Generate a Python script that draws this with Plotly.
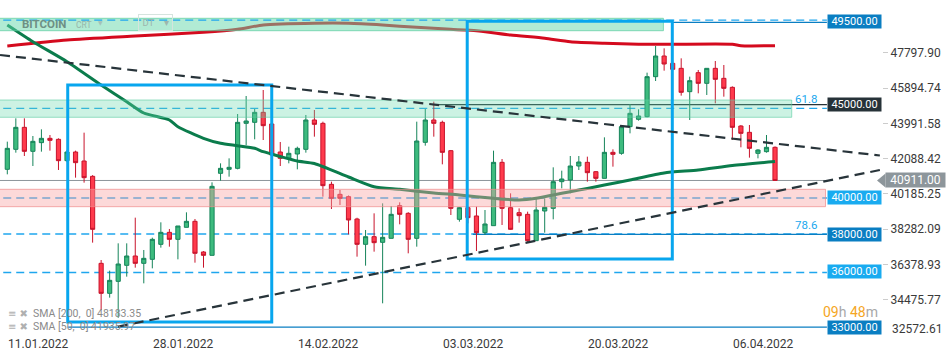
import plotly.graph_objects as go
import pandas as pd

# ---------------- data ----------------
dates = [d.strftime("%Y-%m-%d") for d in pd.date_range("2022-01-11", "2022-04-11", freq="D")]

opens = [41513, 42592, 43779, 42484, 42952, 43185, 43131, 41980, 42448, 41962,
         41135, 36440, 34821, 35469, 36332, 36836, 36440, 36656, 37465, 38113,
         37735, 38383, 38707, 37052, 36872, 41297, 41512, 41566, 43995, 44049,
         44588, 43959, 42448, 42106, 42340, 42592, 44175, 43995, 40703, 40163,
         40037, 38833, 37465, 37879, 37573, 37789, 39552, 39138, 37789, 42969,
         44175, 44049, 42520, 38815, 39444, 38995, 38095, 38473, 41890, 39444,
         39174, 39084, 37663, 39264, 39408, 40847, 40937, 41692, 41890, 41386,
         41026, 42430, 42376, 43815, 44211, 44355, 46513, 47628, 47232, 46963,
         45704, 46729, 46153, 46963, 46423, 45937, 43851, 43509, 42376, 42466,
         42700]
highs = [43006, 44265, 44265, 43311, 43671, 43365, 43185, 42560, 42520, 43491,
         41200, 36620, 36044, 37519, 37519, 38904, 37160, 37825, 38653, 38293,
         38455, 39192, 38833, 37100, 40811, 41836, 42106, 44498, 45470, 44768,
         45793, 44000, 42988, 42736, 42736, 44445, 44714, 44085, 40847, 40397,
         40100, 38900, 38239, 39138, 39678, 39534, 39732, 39200, 44085, 44768,
         45164, 44139, 42556, 39480, 39500, 39498, 39318, 42520, 42070, 40217,
         39408, 39228, 39948, 39948, 41620, 41440, 42232, 42232, 42196, 41420,
         43239, 42592, 43880, 45038, 44750, 46729, 48168, 48042, 47400, 47502,
         46513, 46873, 46963, 47358, 47142, 45990, 43900, 43905, 42600, 43365,
         42750]
lows = [41243, 42412, 42232, 41692, 42466, 42520, 41477, 41900, 41063, 40793,
        37556, 33922, 34587, 33500, 35721, 36206, 35361, 36170, 37285, 37339,
        36656, 38383, 36476, 36206, 36872, 40901, 41117, 41512, 42808, 43131,
        43095, 42250, 41692, 41836, 41512, 42412, 43275, 40037, 39372, 39588,
        38005, 36800, 36314, 37070, 34282, 37789, 38545, 36980, 37339, 42790,
        43275, 41782, 39048, 38689, 38600, 37106, 37969, 38473, 38509, 38239,
        38635, 37555, 37663, 38095, 38815, 40487, 40217, 41476, 40847, 40847,
        41026, 41656, 42300, 43455, 44140, 44319, 46279, 46837, 46850, 45488,
        44175, 45614, 45524, 45074, 45434, 43095, 42700, 42142, 42106, 42412,
        40883]
closes = [42646, 43779, 42484, 43023, 43185, 43077, 41980, 42448, 41872, 41063,
          38275, 34821, 35523, 36404, 36836, 36440, 36710, 37735, 38113, 37735,
          38455, 38707, 36980, 36872, 40595, 41566, 41620, 44049, 44121, 44588,
          43869, 42286, 42106, 42376, 42646, 44175, 43941, 40631, 39948, 39948,
          38779, 37465, 37879, 37555, 37843, 39084, 39084, 37735, 43041, 44175,
          43995, 42430, 39408, 39444, 38905, 38095, 38563, 41890, 39408, 38275,
          39012, 37663, 39318, 39462, 40847, 40991, 41692, 41908, 41332, 41026,
          42430, 42322, 43815, 44535, 44391, 46513, 47628, 47196, 46909, 45668,
          46297, 46153, 46963, 46369, 45883, 43779, 43455, 42646, 42556, 42700,
          40911]

sma200_dates = ["2022-01-11", "2022-01-18", "2022-01-26", "2022-02-03", "2022-02-07",
                "2022-02-10", "2022-02-16", "2022-02-20", "2022-02-24", "2022-02-28",
                "2022-03-04", "2022-03-07", "2022-03-11", "2022-03-15", "2022-03-18",
                "2022-03-22", "2022-03-26", "2022-03-30", "2022-04-06", "2022-04-07",
                "2022-04-11"]
sma200_vals = [48168, 48492, 48707, 48907, 49069, 49301, 49393, 49393, 49301, 49177,
               49069, 48993, 48761, 48583, 48400, 48314, 48260, 48260, 48260, 48183,
               48183.35]

sma50_dates = ["2022-01-11", "2022-01-14", "2022-01-18", "2022-01-22", "2022-01-25",
               "2022-01-27", "2022-01-30", "2022-01-31", "2022-02-03", "2022-02-05",
               "2022-02-07", "2022-02-09", "2022-02-10", "2022-02-12", "2022-02-14",
               "2022-02-16", "2022-02-20", "2022-02-23", "2022-02-26", "2022-03-02",
               "2022-03-05", "2022-03-09", "2022-03-12", "2022-03-14", "2022-03-16",
               "2022-03-18", "2022-03-20", "2022-03-22", "2022-03-25", "2022-03-29",
               "2022-04-02", "2022-04-06", "2022-04-11"]
sma50_vals = [49301, 48400, 47321, 46063, 45162, 44552, 44175, 43813, 43187, 42917,
              42788, 42648, 42464, 42205, 41962, 41827, 41099, 40576, 40435, 40236,
              40128, 39950, 39858, 39950, 40128, 40306, 40479, 40667, 40937, 41315,
              41477, 41720, 41935.97]

x_tick_dates = ["2022-01-11", "2022-01-28", "2022-02-14", "2022-03-03", "2022-03-20", "2022-04-06"]
x_tick_labels = ["11.01.2022", "28.01.2022", "14.02.2022", "03.03.2022", "20.03.2022", "06.04.2022"]
y_tick_vals = [34475.77, 36378.93, 38282.09, 40185.25, 42088.42, 43991.58, 45894.74, 47797.90]
y_bottom_tick = 32572.61

current_price = 40911.00
sma200_last = 48183.35
sma50_last = 41935.97

# horizontal level labels (value, kind)
level_labels = [(49500, "dark"), (45000, "black"), (40000, "light"),
                (38000, "dark"), (36000, "light"), (33000, "dark")]
fib_levels = [("61.8", 44806), ("78.6", 38024)]
dashed_levels = [44806, 39966, 38024, 35946]
top_dashed_level = 49560

# drawing objects
zones = [  # (x_end, y_low, y_high, kind)
    ("2022-03-28 22:00", 48993, 49663, "green_strong"),
    ("2022-04-12 23:00", 44321, 45254, "green"),
    ("2022-04-16 22:00", 39497, 40435, "pink"),
]
solid_levels = [  # (x_start, value, colour kind)
    ("2022-03-01 20:00", 45000, "black"),
    ("2022-03-06 14:00", 38000, "dark"),
    ("2022-01-18 02:00", 33000, "dark"),
    ("2022-03-30 00:00", 49500, "dark"),
]
boxes = [
    ("2022-01-18 02:00", "2022-02-11 00:00", 33275, 46063),
    ("2022-03-05 22:00", "2022-03-29 23:00", 36674, 49501),
]
trendlines = [
    ("2022-01-10 03:30", 47682, "2022-04-23 07:00", 42259),
    ("2022-01-23 23:30", 33021, "2022-04-23 07:00", 41477),
]

# ---------------- layout constants ----------------
W, H = 950, 360
ML, MR, MT, MB = 0, 68, 0, 25
PW, PH = W - ML - MR, H - MT - MB
Y_MIN, Y_MAX = 32572.61, 50650
X_RANGE = ["2022-01-10 03:27", "2022-04-23 13:00"]
LINE_START = "2022-01-09"
LINE_END = "2022-04-17 02:00"
FONT = "Roboto"

def px(x):
    return x / PW

def py(y):
    return 1 - y / PH

def ypaper(price):
    return (price - Y_MIN) / (Y_MAX - Y_MIN)

colors = {"dark": "#0a7ec2", "light": "#19abf0", "black": "#263238", "gray": "#8d969b"}
zone_style = {
    "green_strong": ("rgba(100,215,170,0.5)", "rgba(90,205,160,0.7)"),
    "green": ("rgba(100,215,170,0.33)", "rgba(90,205,160,0.6)"),
    "pink": ("rgba(248,165,165,0.42)", "rgba(240,140,140,0.7)"),
}

fig = go.Figure()
fig.add_trace(go.Candlestick(
    x=dates, open=opens, high=highs, low=lows, close=closes,
    increasing=dict(line=dict(color="#16845a", width=1), fillcolor="#3dbb7e"),
    decreasing=dict(line=dict(color="#c8142c", width=1), fillcolor="#ff3a4c"),
    whiskerwidth=0, showlegend=False, hoverinfo="skip"))
fig.add_trace(go.Scatter(x=sma200_dates, y=sma200_vals, mode="lines",
                         line=dict(color="#d40a1e", width=3, shape="spline", smoothing=0.6),
                         hoverinfo="skip", showlegend=False))
fig.add_trace(go.Scatter(x=sma50_dates, y=sma50_vals, mode="lines",
                         line=dict(color="#0b7c4c", width=3, shape="spline", smoothing=0.6),
                         hoverinfo="skip", showlegend=False))

shapes = []
# below-layer lines
for lv in dashed_levels:
    shapes.append(dict(type="line", xref="x", yref="y", x0=LINE_START, x1=LINE_END, y0=lv, y1=lv,
                       line=dict(color="#1fa6ee", width=1.3, dash="8px,5px"), layer="below"))
for xs, lv, kind in solid_levels[:3]:
    shapes.append(dict(type="line", xref="x", yref="y", x0=xs, x1=LINE_END, y0=lv, y1=lv,
                       line=dict(color=colors[kind], width=1.2), layer="below"))
shapes.append(dict(type="line", xref="x", yref="y", x0=LINE_START, x1=LINE_END,
                   y0=current_price, y1=current_price,
                   line=dict(color=colors["gray"], width=1), layer="below"))
# zones above candles
for xe, y0, y1, kind in zones:
    fc, lc = zone_style[kind]
    shapes.append(dict(type="rect", xref="x", yref="y", x0=LINE_START, x1=xe, y0=y0, y1=y1,
                       fillcolor=fc, line=dict(color=lc, width=1), layer="above"))
shapes.append(dict(type="line", xref="x", yref="y", x0=LINE_START, x1=LINE_END,
                   y0=top_dashed_level, y1=top_dashed_level,
                   line=dict(color="#1fa6ee", width=1.3, dash="8px,5px"), layer="above"))
xs, lv, kind = solid_levels[3]
shapes.append(dict(type="line", xref="x", yref="y", x0=xs, x1=LINE_END, y0=lv - 60, y1=lv - 60,
                   line=dict(color=colors[kind], width=1.2), layer="above"))
for x0, x1, y0, y1 in boxes:
    shapes.append(dict(type="rect", xref="x", yref="y", x0=x0, x1=x1, y0=y0, y1=y1,
                       line=dict(color="#08a6ee", width=3), fillcolor="rgba(0,0,0,0)", layer="above"))
for x0, y0, x1, y1 in trendlines:
    shapes.append(dict(type="line", xref="x", yref="y", x0=x0, y0=y0, x1=x1, y1=y1,
                       line=dict(color="#28343a", width=2.2, dash="10px,6px"), layer="above"))
# arrow of the current-price label
cy = ypaper(current_price)
dy = 7 / PH
shapes.append(dict(type="path", xref="paper", yref="paper",
                   path=f"M {px(877)},{cy} L {px(885.5)},{cy + dy} L {px(885.5)},{cy - dy} Z",
                   fillcolor=colors["gray"], line=dict(width=0), layer="above"))

ann = []
for d, t in zip(x_tick_dates, x_tick_labels):
    ann.append(dict(x=d, y=0, xref="x", yref="paper", xanchor="left", yanchor="top", text=t,
                    showarrow=False, xshift=-1, font=dict(family=FONT, size=12, color="#3a3a3a")))
ann.append(dict(x=1, y=py(329.3), xref="paper", yref="paper", xanchor="left", yanchor="middle",
                xshift=8, text=f"{y_bottom_tick:.2f}", showarrow=False,
                font=dict(family=FONT, size=12, color="#3a3a3a")))
for lv, kind in level_labels:
    ann.append(dict(x=px(827), y=lv, xref="paper", yref="y", xanchor="left", yanchor="middle",
                    text=f"{lv:.2f}", showarrow=False, bgcolor=colors[kind], width=53, height=13,
                    borderpad=0, font=dict(family=FONT, size=11, color="white")))
ann.append(dict(x=px(885), y=current_price, xref="paper", yref="y", xanchor="left", yanchor="middle",
                text=f"{current_price:.2f}", showarrow=False, bgcolor=colors["gray"], width=59, height=14,
                borderpad=0, font=dict(family=FONT, size=12, color="white")))
for name, lv in fib_levels:
    ann.append(dict(x=px(819), y=lv, xref="paper", yref="y", xanchor="right", yanchor="middle",
                    yshift=9, text=name, showarrow=False,
                    font=dict(family=FONT, size=11.5, color="#20a8ee")))
ann.append(dict(x=px(880), y=py(312), xref="paper", yref="paper", xanchor="right", yanchor="middle",
                text='<span style="color:#f5a623">09</span><span style="color:#a8a8a8">h </span>'
                     '<span style="color:#f5a623">48</span><span style="color:#a8a8a8">m</span>',
                showarrow=False, font=dict(family=FONT, size=14)))
legend_rows = [(313.3, f"SMA [200,  0] {sma200_last:.2f}"), (326.7, f"SMA [50,  0] {sma50_last:.2f}")]
for yy, t in legend_rows:
    ann.append(dict(x=px(6), y=py(yy), xref="paper", yref="paper", xanchor="left", yanchor="middle",
                    text="≡ ✖", showarrow=False, font=dict(family="DejaVu Sans", size=10, color="#b0b0b0")))
    ann.append(dict(x=px(31), y=py(yy), xref="paper", yref="paper", xanchor="left", yanchor="middle",
                    text=t, showarrow=False, font=dict(family=FONT, size=10.5, color="#8a8a8a")))
ann.append(dict(x=px(20), y=py(23.5), xref="paper", yref="paper", xanchor="left", yanchor="middle",
                text="<b>BITCOIN</b>", showarrow=False, font=dict(family=FONT, size=11.5, color="#6e9085")))
ann.append(dict(x=px(74), y=py(24.5), xref="paper", yref="paper", xanchor="left", yanchor="middle",
                text="CRT", showarrow=False, font=dict(family=FONT, size=8.5, color="#96b5aa")))
ann.append(dict(x=px(96), y=py(22), xref="paper", yref="paper", xanchor="left", yanchor="middle",
                text="▼", showarrow=False, font=dict(family="DejaVu Sans", size=6, color="#a5c2b8")))
ann.append(dict(x=px(137.5), y=py(22.7), xref="paper", yref="paper", xanchor="left", yanchor="middle",
                text="DT    ▾", showarrow=False, width=33, height=15, borderpad=0,
                bordercolor="#d5e4de", borderwidth=1,
                font=dict(family=FONT, size=9.5, color="#9db6ad")))

fig.update_layout(
    width=W, height=H, margin=dict(l=ML, r=MR, t=MT, b=MB),
    paper_bgcolor="white", plot_bgcolor="white", showlegend=False,
    xaxis=dict(type="date", range=X_RANGE, showgrid=False, zeroline=False, showticklabels=False,
               showline=False, ticks="", rangeslider=dict(visible=False), fixedrange=True),
    yaxis=dict(side="right", range=[Y_MIN, Y_MAX], tickvals=y_tick_vals,
               ticktext=[f"{v:.2f}" for v in y_tick_vals], ticks="outside", ticklen=5,
               tickcolor="#cccccc", showgrid=False, zeroline=False, showline=False,
               tickfont=dict(family=FONT, size=12, color="#3a3a3a"), fixedrange=True),
    shapes=shapes, annotations=ann,
)

fig.write_html("out.html", config={"displayModeBar": False},
               post_script="document.body.style.margin='0';document.body.style.overflow='hidden';")
